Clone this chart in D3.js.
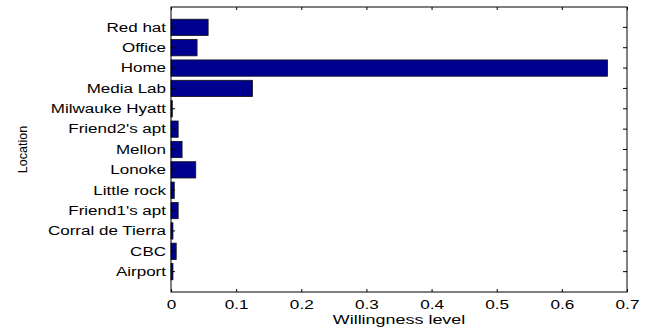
<!DOCTYPE html>
<html>
<head>
<meta charset="utf-8">
<script src="https://cdn.jsdelivr.net/npm/d3@7"></script>
<style>
  html, body { margin: 0; padding: 0; background: #fff; }
  svg { display: block; }
  text { font-family: "Liberation Sans", Arial, Helvetica, sans-serif; fill: #000; }
</style>
</head>
<body>
<svg id="chart" width="652" height="330"></svg>
<script>
// Data (top to bottom as displayed)
const categories = ["Red hat", "Office", "Home", "Media Lab", "Milwauke Hyatt", "Friend2's apt",
  "Mellon", "Lonoke", "Little rock", "Friend1's apt", "Corral de Tierra", "CBC", "Airport"];
const willingness = [0.057, 0.040, 0.670, 0.125, 0.002, 0.011, 0.017, 0.038, 0.005, 0.011, 0.003, 0.008, 0.003];
const xTicks = [0, 0.1, 0.2, 0.3, 0.4, 0.5, 0.6, 0.7];
const xLabel = "Willingness level";
const yLabel = "Location";

(function () {
const svg = d3.select("#chart");
const pL = 171, pR = 627, pT = 7, pB = 292;

const x = d3.scaleLinear().domain([0, 0.7]).range([pL, pR]);
const y = d3.scaleBand().domain(categories).range([pT, pB]).paddingInner(0.2).paddingOuter(0.6);

// bars
svg.append("g").selectAll("rect").data(categories).join("rect")
  .attr("x", x(0))
  .attr("y", d => y(d))
  .attr("width", (d, i) => Math.max(0, x(willingness[i]) - x(0)))
  .attr("height", y.bandwidth())
  .attr("fill", "#00008f")
  .attr("stroke", "#111")
  .attr("stroke-width", 0.8);

// axes
const gB = svg.append("g").attr("transform", `translate(0,${pB})`)
  .call(d3.axisBottom(x).tickValues(xTicks).tickFormat(d3.format("~g")).tickSizeInner(-3).tickSizeOuter(0).tickPadding(7.5));
const gT = svg.append("g").attr("transform", `translate(0,${pT})`)
  .call(d3.axisTop(x).tickValues(xTicks).tickFormat("").tickSizeInner(-3).tickSizeOuter(0));
const gL = svg.append("g").attr("transform", `translate(${pL},0)`)
  .call(d3.axisLeft(y).tickSizeInner(-4).tickSizeOuter(0).tickPadding(5));
const gR = svg.append("g").attr("transform", `translate(${pR},0)`)
  .call(d3.axisRight(y).tickFormat("").tickSizeInner(-4).tickSizeOuter(0));

[gB, gT, gL, gR].forEach(g => {
  g.select(".domain").remove();
  g.selectAll(".tick line").attr("stroke", "#000").attr("stroke-width", 1);
  g.selectAll("text").attr("font-family", "Liberation Sans, Arial, sans-serif").attr("fill", "#000");
});
gB.selectAll(".tick text").attr("font-size", 13).attr("transform", "scale(1.32,1)");
const sy = 1.26;
gL.selectAll(".tick text").attr("font-size", 13.5).each(function () {
  const t = d3.select(this);
  t.attr("x", +t.attr("x") / sy).attr("transform", `scale(${sy},1)`);
});

// frame
svg.append("rect").attr("x", pL).attr("y", pT).attr("width", pR - pL).attr("height", pB - pT)
  .attr("fill", "none").attr("stroke", "#000").attr("stroke-width", 1);

// axis labels
svg.append("text").attr("transform", `translate(${(pL + pR) / 2},323.5) scale(1.38,1)`)
  .attr("text-anchor", "middle").attr("font-size", 13).text(xLabel);
svg.append("text").attr("transform", `translate(27,${(pT + pB) / 2}) rotate(-90)`)
  .attr("text-anchor", "middle").attr("font-size", 12.5).text(yLabel);
})();
</script>
</body>
</html>
